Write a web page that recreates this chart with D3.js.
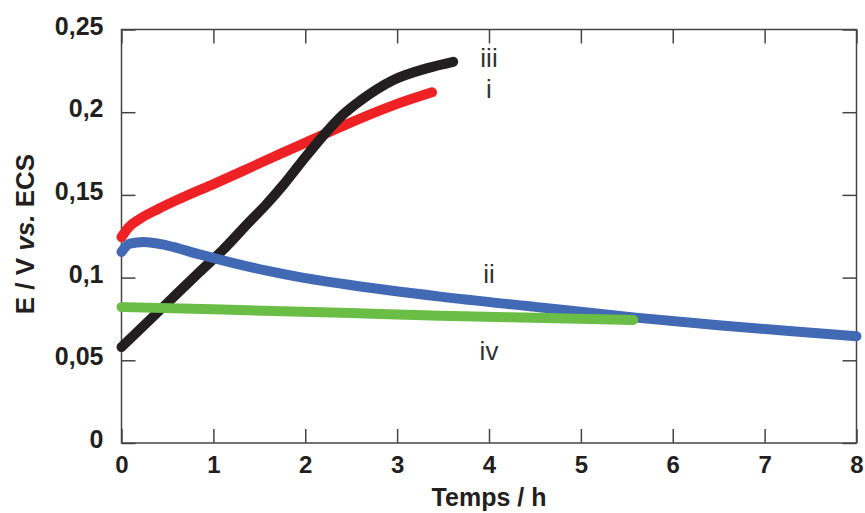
<!DOCTYPE html>
<html><head><meta charset="utf-8">
<script src="https://cdn.jsdelivr.net/npm/d3@7"></script>
<style>body{margin:0;background:#fff}svg{display:block}</style>
</head><body>
<svg id="c" width="865" height="513"></svg>
<script>
const xTicks = [0,1,2,3,4,5,6,7,8];
const yTicks = [0,0.05,0.1,0.15,0.2,0.25];
const yTickLabels = ["0","0,05","0,1","0,15","0,2","0,25"];
const tRed   = [0,0.08,0.2,0.4,0.655,1.02,1.38,1.74,2.1,2.43,2.95,3.38];
const vRed   = [0.1245,0.1305,0.1355,0.1415,0.1482,0.157,0.166,0.1751,0.184,0.1922,0.2040,0.212];
const tBlack = [0,0.49,0.85,1.1,1.38,1.58,1.76,1.96,2.23,2.41,2.6,2.96,3.32,3.61];
const vBlack = [0.058,0.0842,0.1034,0.1165,0.133,0.1445,0.156,0.170,0.188,0.1985,0.207,0.2195,0.2265,0.2305];
const tBlue  = [0,0.09,0.24,0.49,0.85,1.22,1.58,1.94,2.49,3.47,4.5,5.6,6.5,7.3,8];
const vBlue  = [0.1155,0.1205,0.1215,0.1195,0.114,0.1088,0.1042,0.1003,0.0955,0.0885,0.0823,0.0758,0.0712,0.0675,0.0645];
const tGreen = [0,1,2.49,3.47,4.5,5.57];
const vGreen = [0.0822,0.0808,0.0786,0.077,0.0757,0.0744];
const labelText = ["iii","i","ii","iv"];
const labelX = [4,4,4,4];
const labelV = [0.2275,0.2085,0.0968,0.0502];

const svg = d3.select("#c");
const L=121.5, R=856.5, T=29.5, B=443;
const x = d3.scaleLinear().domain([0,8]).range([L,R]);
const y = d3.scaleLinear().domain([0,0.25]).range([B,T]);
const font = "'Liberation Sans', Arial, sans-serif";
const ax = "#444";

svg.append("rect").attr("x",L).attr("y",T).attr("width",R-L).attr("height",B-T)
  .attr("fill","none").attr("stroke",ax).attr("stroke-width",1.5);

const tl = 14;
const gBottom = svg.append("g").attr("transform",`translate(0,${B})`)
  .call(d3.axisBottom(x).tickValues(xTicks).tickSizeInner(-tl).tickSizeOuter(0).tickFormat(d3.format("d")));
const gTop = svg.append("g").attr("transform",`translate(0,${T})`)
  .call(d3.axisTop(x).tickValues(xTicks).tickSizeInner(-tl).tickSizeOuter(0).tickFormat(""));
const gLeft = svg.append("g").attr("transform",`translate(${L},0)`)
  .call(d3.axisLeft(y).tickValues(yTicks).tickSizeInner(-tl).tickSizeOuter(0).tickPadding(18).tickFormat((d,i)=>yTickLabels[i]));
const gRight = svg.append("g").attr("transform",`translate(${R},0)`)
  .call(d3.axisRight(y).tickValues(yTicks).tickSizeInner(-tl).tickSizeOuter(0).tickFormat(""));
[gBottom,gTop,gLeft,gRight].forEach(g=>{
  g.select(".domain").remove();
  g.selectAll(".tick line").attr("stroke",ax).attr("stroke-width",1.5);
  g.selectAll("text").attr("fill","#231f20").style("font-family",font).style("font-size","24px").style("font-weight","bold");
});
gBottom.selectAll("text").attr("y",29.5).attr("dy","0");
gLeft.selectAll("text").attr("x",-18).attr("dy","0.18em").style("font-size","25px");

const line = d3.line().x(d=>x(d[0])).y(d=>y(d[1])).curve(d3.curveMonotoneX);
const series = [
  {t:tRed,v:vRed,c:"#ee2224"},
  {t:tBlack,v:vBlack,c:"#231f20"},
  {t:tBlue,v:vBlue,c:"#4169b4"},
  {t:tGreen,v:vGreen,c:"#6abd45"}
];
series.forEach(s=>{
  svg.append("path").datum(s.t.map((t,i)=>[t,s.v[i]]))
    .attr("d",line).attr("fill","none").attr("stroke",s.c)
    .attr("stroke-width",10).attr("stroke-linecap","round").attr("stroke-linejoin","round");
});

labelText.forEach((t,i)=>{
  svg.append("text").attr("x",x(labelX[i])).attr("y",y(labelV[i])).attr("text-anchor","middle")
    .style("font-family",font).style("font-size","26px").attr("fill","#333").text(t);
});

svg.append("text").attr("x",489).attr("y",506).attr("text-anchor","middle")
  .style("font-family",font).style("font-size","25px").style("font-weight","bold").attr("fill","#231f20")
  .text("Temps / h");

const yl = svg.append("text").attr("transform","translate(34,234) rotate(-90)").attr("text-anchor","middle")
  .style("font-family",font).style("font-size","26px").style("font-weight","bold").attr("fill","#231f20");
yl.append("tspan").text("E / V ");
yl.append("tspan").style("font-style","italic").text("vs.");
yl.append("tspan").text(" ECS");
</script>
</body></html>
